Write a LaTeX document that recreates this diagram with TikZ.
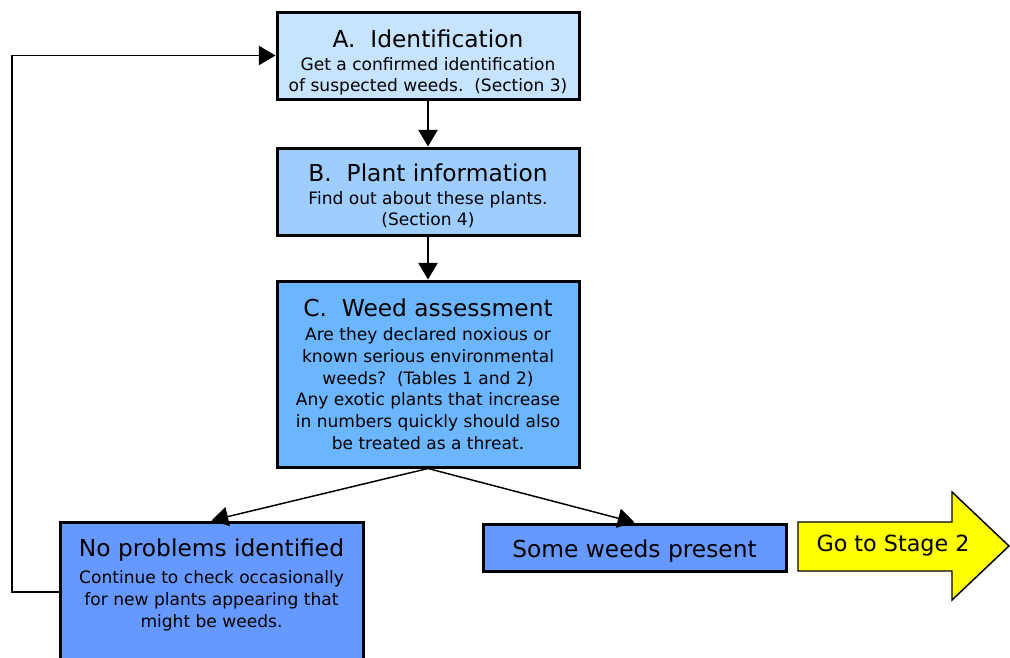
\documentclass[tikz,border=0pt]{standalone}
\usepackage{fontspec}
\setmainfont{DejaVu Sans}
\usepackage{xcolor}
\usetikzlibrary{arrows.meta,positioning}

\definecolor{boxA}{HTML}{C6E3FF}
\definecolor{boxB}{HTML}{9ECEFF}
\definecolor{boxC}{HTML}{6BB6FF}
\definecolor{boxD}{HTML}{6699FF}
\definecolor{goYellow}{HTML}{FFFF00}

\newcommand{\hd}[1]{{\fontsize{17.5}{21}\selectfont #1}}
\newcommand{\dn}[1]{\rule{0pt}{#1}}

\begin{document}
\begin{tikzpicture}[x=0.75pt,y=-0.75pt,
    stage/.style={draw,line width=2.25pt,minimum width=226.5pt,inner sep=2pt,align=center,
      font=\fontsize{12.8}{16.3}\selectfont},
    line/.style={line width=1.1pt},
    arr/.style={line,-{Triangle[length=12.5pt,width=14.5pt]}}]
  \useasboundingbox (0,0) rectangle (1010,657);
  \clip (0,0) rectangle (1010,657);
  \node[stage,fill=boxA,minimum height=65.25pt] (a) at (428,55.5)
    {\dn{24pt}\hd{A.\ \ Identification}\\[0.5pt] Get a confirmed identification\\ of suspected weeds.\ \ (Section 3)};
  \node[stage,fill=boxB,minimum height=65.25pt] (b) at (428,191.5)
    {\dn{20pt}\hd{B.\ \ Plant information}\\[0.5pt] Find out about these plants.\\ (Section 4)};
  \node[stage,fill=boxC,minimum height=139.5pt] (c) at (428,374)
    {\hd{C.\ \ Weed assessment}\\[2pt] Are they declared noxious or\\ known serious environmental\\
     weeds?\ \ (Tables 1 and 2)\\ Any exotic plants that increase\\ in numbers quickly should also\\
     be treated as a threat.};
  \node[stage,fill=boxD,minimum width=227.25pt,minimum height=118.5pt] (np) at (211.5,601) {};
  \node[align=center,font=\fontsize{12.8}{16.3}\selectfont] (npt) at (211.5,585)
    {\hd{No problems identified}\\[4pt] Continue to check occasionally\\ for new plants appearing that\\ might be weeds.};
  \node[stage,fill=boxD,minimum width=227.25pt,minimum height=35.25pt,text height=19pt] (sw) at (634.5,547.5)
    {\hd{Some weeds present}};
  % go on arrow
  \draw[line,fill=goYellow] (798,522) -- (952,522) -- (952,492) -- (1009,546)
    -- (952,600) -- (952,571) -- (798,571) -- cycle;
  \node[font=\fontsize{16.7}{20}\selectfont] (go) at (893,546) {Go to Stage 2};
  \coordinate (fb) at (12,592);
  \draw[arr] (a) -- (b);
  \draw[arr] (b) -- (c);
  \draw[arr] (c.south) -- (np.north);
  \draw[arr] (c.south) -- (sw.north);
  \draw[arr] (np.west |- fb) -- (fb) |- (a.west);
\end{tikzpicture}
\end{document}
